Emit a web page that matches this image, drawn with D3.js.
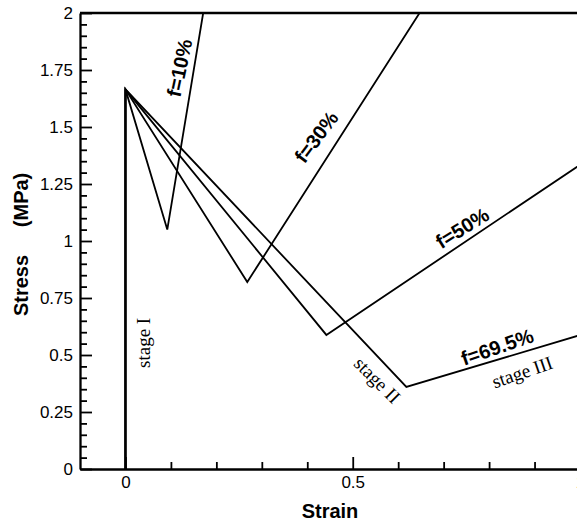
<!DOCTYPE html>
<html>
<head>
<meta charset="utf-8">
<script src="https://cdn.jsdelivr.net/npm/d3@7"></script>
<style>
  body { margin: 0; background: #fff; }
  svg { display: block; }
</style>
</head>
<body>
<div id="chart"></div>
<script>
// stress-strain curves for different fractions f
const seriesNames = ["f=10%", "f=30%", "f=50%", "f=69.5%"];
const strainValues = [
    [0, 0, 0.092, 0.171],
    [0, 0, 0.268, 0.647],
    [0, 0, 0.442, 1.0],
    [0, 0, 0.618, 1.0]
];
const stressValues = [
    [0, 1.665, 1.05, 2.0],
    [0, 1.665, 0.82, 2.0],
    [0, 1.665, 0.588, 1.334],
    [0, 1.665, 0.36, 0.587]
];
// label anchor points in data units
const labelStrain = [0.119, 0.420, 0.741, 0.818];
const labelStress = [1.759, 1.456, 1.057, 0.535];
const stageNames = ["stage I", "stage II", "stage III"];
const stageStrain = [0.040, 0.554, 0.873];
const stageStress = [0.553, 0.39, 0.425];

const yMajorTicks = [0, 0.25, 0.5, 0.75, 1, 1.25, 1.5, 1.75, 2];
const yTickLabels = ["0", "0.25", "0.5", "0.75", "1", "1.25", "1.5", "1.75", "2"];
const xMajorTicks = [0, 0.5, 1];
const xTickLabels = ["0", "0.5", "1"];

const width = 577, height = 523;
const margin = { top: 13, left: 80 };
const plotW = 500, plotH = 456;
const sans = "'Liberation Sans', Arial, Helvetica, sans-serif";

const svg = d3.select("#chart").append("svg")
    .attr("width", width)
    .attr("height", height);

const x = d3.scaleLinear().domain([-0.1, 1.0]).range([margin.left, margin.left + plotW]);
const y = d3.scaleLinear().domain([0, 2]).range([margin.top + plotH, margin.top]);

svg.append("clipPath").attr("id", "clip")
    .append("rect")
    .attr("x", x(-0.1)).attr("y", y(2))
    .attr("width", plotW).attr("height", plotH);

const line = d3.line().x(d => x(d[0])).y(d => y(d[1]));

const lines = svg.append("g").attr("clip-path", "url(#clip)");
seriesNames.forEach((name, i) => {
    const pts = strainValues[i].map((s, j) => [s, stressValues[i][j]]);
    lines.append("path")
        .datum(pts)
        .attr("fill", "none")
        .attr("stroke", "#000")
        .attr("stroke-width", 1.8)
        .attr("stroke-linejoin", "miter")
        .attr("d", line);
});

// axes, ticks pointing inward
const yMinor = d3.range(0, 2.0001, 0.05).filter(v => !yMajorTicks.some(t => Math.abs(t - v) < 1e-6));
const xMinor = d3.range(0, 1.0001, 0.1).filter(v => !xMajorTicks.some(t => Math.abs(t - v) < 1e-6));

const gy = svg.append("g")
    .attr("transform", `translate(${margin.left},0)`)
    .call(d3.axisLeft(y)
        .tickValues(yMajorTicks)
        .tickFormat((d, i) => yTickLabels[i])
        .tickSizeInner(-12)
        .tickSizeOuter(0)
        .tickPadding(7));

const gyMinor = svg.append("g")
    .attr("transform", `translate(${margin.left},0)`)
    .call(d3.axisLeft(y).tickValues(yMinor).tickSizeInner(-7).tickSizeOuter(0).tickFormat(""));
gyMinor.select(".domain").remove();

const gx = svg.append("g")
    .attr("transform", `translate(0,${margin.top + plotH})`)
    .call(d3.axisBottom(x)
        .tickValues(xMajorTicks)
        .tickFormat((d, i) => xTickLabels[i])
        .tickSizeInner(-12)
        .tickSizeOuter(0)
        .tickPadding(7));

const gxMinor = svg.append("g")
    .attr("transform", `translate(0,${margin.top + plotH})`)
    .call(d3.axisBottom(x).tickValues(xMinor).tickSizeInner(-7).tickSizeOuter(0).tickFormat(""));
gxMinor.select(".domain").remove();

svg.selectAll(".domain").attr("stroke", "#000").attr("stroke-width", 2.3);
svg.selectAll(".tick line").attr("stroke", "#000").attr("stroke-width", 1.8);
[gx, gy].forEach(g => g.selectAll("text")
    .attr("font-family", sans)
    .attr("font-size", 17)
    .attr("fill", "#000"));

// top border
svg.append("line")
    .attr("x1", x(-0.1)).attr("x2", x(1.0))
    .attr("y1", y(2)).attr("y2", y(2))
    .attr("stroke", "#000").attr("stroke-width", 2.3);

// series labels
const labelAngles = [-78, -53, -32, -19];
seriesNames.forEach((name, i) => {
    svg.append("text")
        .attr("transform", `translate(${x(labelStrain[i])},${y(labelStress[i])}) rotate(${labelAngles[i]})`)
        .attr("text-anchor", "middle")
        .attr("dominant-baseline", "central")
        .attr("font-family", sans)
        .attr("font-weight", "bold")
        .attr("font-size", 20)
        .text(name);
});

const stageAngles = [-90, 45, -19];
stageNames.forEach((name, i) => {
    svg.append("text")
        .attr("transform", `translate(${x(stageStrain[i])},${y(stageStress[i])}) rotate(${stageAngles[i]})`)
        .attr("text-anchor", "middle")
        .attr("dominant-baseline", "central")
        .attr("font-family", "'Liberation Serif', 'Times New Roman', serif")
        .attr("font-size", 19)
        .text(name);
});

// axis titles
svg.append("text")
    .attr("x", x(0.45)).attr("y", 518)
    .attr("text-anchor", "middle")
    .attr("font-family", sans)
    .attr("font-weight", "bold")
    .attr("font-size", 20)
    .text("Strain");

svg.append("text")
    .attr("transform", `translate(28,${y(0.985)}) rotate(-90)`)
    .attr("text-anchor", "middle")
    .attr("font-family", sans)
    .attr("font-weight", "bold")
    .attr("font-size", 20)
    .style("white-space", "pre")
    .text("Stress     (MPa)");
</script>
</body>
</html>
